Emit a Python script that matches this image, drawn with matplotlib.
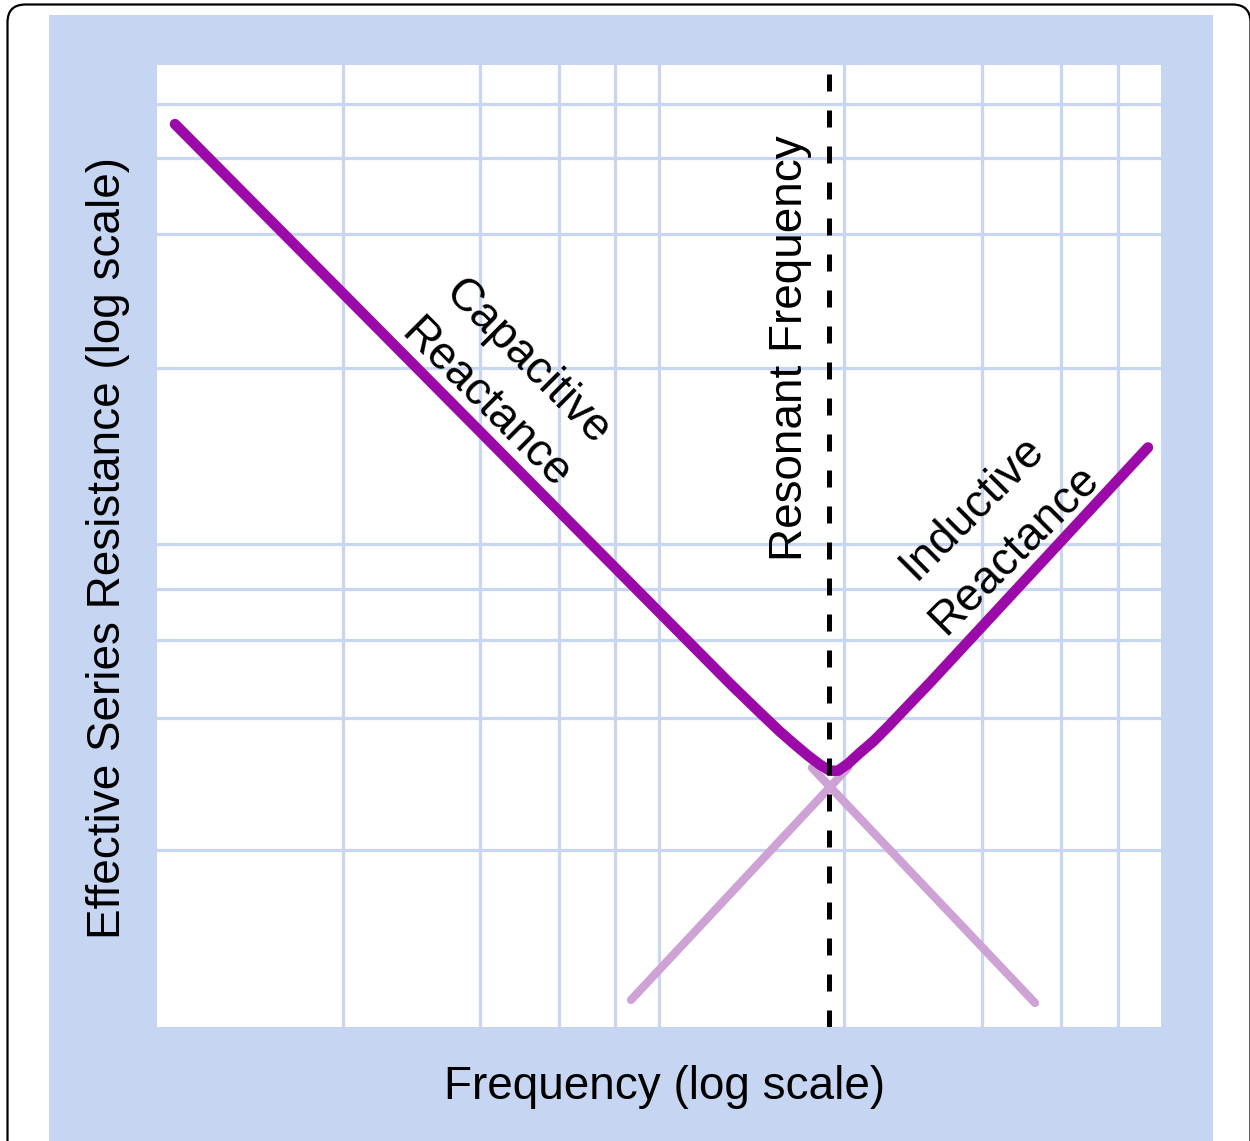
import matplotlib
matplotlib.use("Agg")
import matplotlib.pyplot as plt
from matplotlib.patches import Rectangle, FancyBboxPatch
from matplotlib.transforms import IdentityTransform

# ---------------- data ----------------
freq_curve = [1.086, 13.85, 15.89, 17.42, 18.66, 19.81, 20.93, 21.91, 22.73,
              23.80, 25.14, 26.68, 28.59, 31.33, 34.67, 94.2]
esr_curve = [75.0, 5.166, 4.497, 4.105, 3.857, 3.660, 3.505, 3.406, 3.406,
             3.522, 3.712, 3.913, 4.205, 4.649, 5.190, 15.98]

freq_cap_ext = [20.17, 56.1]     # capacitive reactance continued past resonance
esr_cap_ext = [3.455, 1.122]
freq_ind_ext = [8.795, 23.80]    # inductive reactance continued below resonance
esr_ind_ext = [1.138, 3.455]

resonant_freq = 21.81

grid_x = [2.35, 4.4, 6.32, 8.17, 10.0, 23.4, 44.0, 63.2, 82.1]
grid_y = [2.33, 4.39, 6.35, 8.14, 10.05, 23.4, 44.3, 63.8, 82.6]

x_label = "Frequency (log scale)"
y_label = "Effective Series Resistance (log scale)"
cap_label = "Capacitive\nReactance"
ind_label = "Inductive\nReactance"
res_label = "Resonant Frequency"

# ---------------- style ----------------
W, H = 1250, 1141
DPI = 100
PANEL = "#c6d6f2"
GRID = "#c8d6f1"
DARK = "#9b0aa8"
LIGHT = "#cfa2d6"
FONT = ["Liberation Sans", "DejaVu Sans"]
FS = 33

plt.rcParams["font.family"] = FONT

fig = plt.figure(figsize=(W / DPI, H / DPI), dpi=DPI)
fig.patch.set_facecolor("white")

# outer rounded border (pixel coordinates, origin bottom-left)
border = FancyBboxPatch((7.5, -40), 1243, H - 4.5 + 40,
                        boxstyle="round,pad=0,rounding_size=18",
                        transform=IdentityTransform(), facecolor="white",
                        edgecolor="black", linewidth=1.6, zorder=-3)
fig.patches.append(border)

# blue panel
panel = Rectangle((49 / W, 0), (1213 - 49) / W, (H - 15) / H,
                  transform=fig.transFigure, facecolor=PANEL,
                  edgecolor="none", zorder=-2)
fig.patches.append(panel)

ax = fig.add_axes([157 / W, 1 - 1027 / H, (1161 - 157) / W, (1027 - 65) / H])
ax.set_zorder(2)
ax.set_facecolor("white")
ax.set_xscale("log")
ax.set_yscale("log")
ax.set_xlim(1, 100)
ax.set_ylim(1, 99.5)

for gx in grid_x:
    ax.axvline(gx, color=GRID, lw=2.3, zorder=1)
for gy in grid_y:
    ax.axhline(gy, color=GRID, lw=2.3, zorder=1)

ax.plot(freq_cap_ext, esr_cap_ext, color=LIGHT, lw=6.0,
        solid_capstyle="round", zorder=2)
ax.plot(freq_ind_ext, esr_ind_ext, color=LIGHT, lw=6.0,
        solid_capstyle="round", zorder=2)
ax.plot(freq_curve, esr_curve, color=DARK, lw=7.6,
        solid_capstyle="round", solid_joinstyle="round", zorder=3)

ax.axvline(resonant_freq, color="black", lw=3.6,
           linestyle=(0, (3.4, 3.8)), zorder=4)

ax.text(4.958, 21.72, cap_label, rotation=-45, rotation_mode="anchor",
        ha="center", va="center", multialignment="center",
        fontsize=FS, linespacing=1.45, zorder=5)
ax.text(46.3, 10.85, ind_label, rotation=45, rotation_mode="anchor",
        ha="center", va="center", multialignment="center",
        fontsize=FS, linespacing=1.45, zorder=5)
ax.text(18.2, 25.7, res_label, rotation=90, rotation_mode="anchor",
        ha="center", va="center", fontsize=FS, zorder=5)

ax.set_xticks([])
ax.set_yticks([])
ax.minorticks_off()
ax.tick_params(which="both", length=0)
for s in ax.spines.values():
    s.set_visible(False)

fig.text(665 / W, 1 - 1087 / H, x_label, ha="center", va="center", fontsize=FS)
fig.text(108 / W, 1 - 548 / H, y_label, ha="center", va="center",
         rotation=90, fontsize=FS)

fig.savefig("out.png", dpi=DPI)
